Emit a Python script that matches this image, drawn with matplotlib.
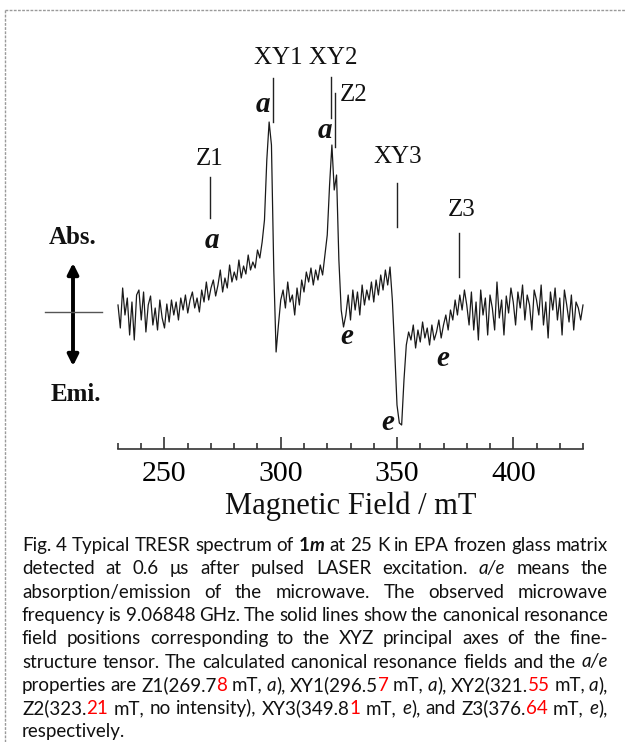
import re
import numpy as np
import matplotlib
matplotlib.use("Agg")
import matplotlib.pyplot as plt
from matplotlib.lines import Line2D
from matplotlib.patches import FancyArrowPatch

# ---------------- data ----------------
field_start = 230.0   # mT
field_step = 1.0      # mT
signal = [
    5, -18, 22, -5, 12, -25, 8, -30, 15, 20,            # 230-239
    -10, 18, -22, 5, 14, -15, 2, -20, 10, -8,           # 240-249
    -18, 6, -12, 10, -5, 8, -10, 12, 0, 15,             # 250-259
    -3, 10, 18, 2, 12, -2, 20, 8, 28, 10,               # 260-269
    22, 30, 14, 25, 40, 18, 32, 22, 45, 28,             # 270-279
    38, 30, 50, 32, 44, 36, 55, 40, 48, 42,             # 280-289
    60, 52, 68, 90, 150, 188, 165, 40, -42, -15,        # 290-299
    10, 20, 2, 28, 8, 15, -5, 22, 5, 30,                # 300-309
    18, 38, 28, 42, 25, 40, 30, 45, 35, 55,             # 310-319
    75, 125, 165, 120, 135, 50, 0, -17, -5, 15,         # 320-329
    -10, 20, 0, 18, -5, 25, 5, 20, 10, 28,              # 330-339
    8, 30, 15, 35, 20, 40, 25, 43, 10, -40,             # 340-349
    -95, -113, -115, -70, -35, -22, -30, -15, -38, -20, # 350-359
    -32, -12, -28, -18, -35, -15, -30, -22, -10, -28,   # 360-369
    -15, -5, -20, 0, -10, 10, -5, 15, 0, 20,            # 370-379
    5, -15, 18, -20, 8, -30, 20, -5, 12, -25,           # 380-389
    15, 2, -20, 28, -8, 10, -25, 14, -3, 22,            # 390-399
    8, -15, 18, 2, 25, -10, 15, 5, -20, 20,             # 400-409
    10, -5, 25, -15, 8, -28, 18, 0, 22, -10,            # 410-419
    12, -25, 20, 5, -12, 15, -20, 8, 2, -10,            # 420-429
    5,                                                  # 430
]
field = field_start + field_step * np.arange(len(signal))

marker_names = ["Z1", "XY1", "XY2", "Z2", "XY3", "Z3"]
marker_fields = [269.78, 296.57, 321.55, 323.21, 349.81, 376.64]

major_ticks = [250, 300, 350, 400]
minor_ticks = list(range(230, 431, 10))

caption_lines = [
    "Fig. 4 Typical TRESR spectrum of {b:1}{bi:m} at 25 K in EPA frozen glass matrix",
    "detected at 0.6 \u03bcs after pulsed LASER excitation. {i:a/e} means the",
    "absorption/emission of the microwave. The observed microwave",
    "frequency is 9.06848 GHz. The solid lines show the canonical resonance",
    "field positions corresponding to the XYZ principal axes of the fine-",
    "structure tensor. The calculated canonical resonance fields and the {i:a/e}",
    "properties are Z1(269.7{r:8} mT, {i:a}), XY1(296.5{r:7} mT, {i:a}), XY2(321.{r:55} mT, {i:a}),",
    "Z2(323.{r:21} mT, no intensity), XY3(349.8{r:1} mT, {i:e}), and Z3(376.{r:64} mT, {i:e}),",
    "respectively.",
]

# ---------------- figure ----------------
W, H, DPI = 626, 742, 100
fig = plt.figure(figsize=(W / DPI, H / DPI), dpi=DPI)
fig.patch.set_facecolor("white")


def fx(px):
    return px / W


def fy(py):
    return 1 - py / H


SERIF = ["Liberation Serif", "DejaVu Serif"]

ax = fig.add_axes([fx(118), fy(449), fx(583) - fx(118), fy(0) - fy(449)])
ax.set_xlim(230, 430)
ax.set_ylim(-139, 310)
ax.patch.set_visible(False)
for s in ["top", "left", "right"]:
    ax.spines[s].set_visible(False)
ax.spines["bottom"].set_linewidth(1.2)
ax.spines["bottom"].set_color("#333333")
ax.set_yticks([])
ax.set_xticks(major_ticks)
ax.set_xticks(minor_ticks, minor=True)
ax.tick_params(axis="x", which="major", direction="in", length=9, width=1.2,
               color="#333333", labelsize=21.5, pad=9)
ax.tick_params(axis="x", which="minor", direction="in", length=4.5, width=1.2,
               color="#333333")
for lab in ax.get_xticklabels():
    lab.set_fontfamily(SERIF)

ax.plot(field, signal, color="#1a1a1a", lw=0.9, clip_on=False)

marker_spans = {"Z1": (92, 133), "XY1": (188, 232), "XY2": (192, 233),
                "Z2": (163, 217), "XY3": (83, 127), "Z3": (33, 77)}
for name, f in zip(marker_names, marker_fields):
    y0, y1 = marker_spans[name]
    ax.plot([f, f], [y0, y1], color="#222222", lw=1.0, clip_on=False)

lab_kw = dict(family=SERIF, fontsize=18, ha="center", va="center", color="#111111")
ax.text(310.9, 252, "XY1 XY2", **lab_kw)
ax.text(325.3, 215, "Z2", family=SERIF, fontsize=18, ha="left", va="center", color="#111111")
ax.text(269.6, 151, "Z1", **lab_kw)
ax.text(350.4, 153, "XY3", **lab_kw)
ax.text(378.0, 100, "Z3", **lab_kw)

ae_kw = dict(family=SERIF, fontsize=21, weight="bold", style="italic",
             ha="center", va="center", color="#111111")
ax.text(292.4, 205, "a", **ae_kw)
ax.text(319.0, 179, "a", **ae_kw)
ax.text(270.4, 69, "a", **ae_kw)
ax.text(328.5, -26, "e", **ae_kw)
ax.text(369.8, -49, "e", **ae_kw)
ax.text(346.1, -113, "e", **ae_kw)

fig.text(fx(351), fy(514), "Magnetic Field / mT", family=SERIF, fontsize=22,
         ha="center", va="baseline", color="#111111")

fig.text(fx(73), fy(237), "Abs.", family=SERIF, fontsize=18, weight="bold",
         ha="center", va="center", color="#111111")
fig.text(fx(76), fy(394), "Emi.", family=SERIF, fontsize=18, weight="bold",
         ha="center", va="center", color="#111111")
fig.add_artist(Line2D([fx(45), fx(102)], [fy(312), fy(312)], color="#555555", lw=1.0))
fig.add_artist(FancyArrowPatch((fx(73), fy(263)), (fx(73), fy(366)),
                               transform=fig.transFigure, arrowstyle="<|-|>",
                               mutation_scale=16, lw=2.8, color="black",
                               shrinkA=0, shrinkB=0))

fig.add_artist(Line2D([fx(5), fx(626)], [fy(10), fy(10)], color="#9a9a9a",
                      lw=1.0, ls=(0, (2, 1))))
fig.add_artist(Line2D([fx(5), fx(5)], [fy(10), fy(742)], color="#9a9a9a",
                      lw=1.0, ls=(0, (2, 1))))

# ---------------- caption (justified) ----------------
CAP = ["Lato", "DejaVu Sans"]
renderer = fig.canvas.get_renderer()
styles = {
    "": dict(color="#111111", weight="normal", style="normal"),
    "b": dict(color="#111111", weight="bold", style="normal"),
    "bi": dict(color="#111111", weight="bold", style="italic"),
    "i": dict(color="#111111", weight="normal", style="italic"),
    "r": dict(color="#ff0000", weight="normal", style="normal"),
}


def parse_word(word):
    segs = []
    for m in re.finditer(r"\{(\w+):([^}]*)\}|([^{]+)", word):
        if m.group(3) is not None:
            segs.append(("", m.group(3)))
        else:
            segs.append((m.group(1), m.group(2)))
    return segs


def seg_width(txt, key, size):
    t = fig.text(0, 0, txt, family=CAP, fontsize=size, **styles[key])
    w = t.get_window_extent(renderer).width
    t.remove()
    return w


LEFT, RIGHT = 22, 608
test = re.sub(r"\{\w+:([^}]*)\}", r"\1", caption_lines[0])
w12 = seg_width(test, "", 12)
cap_size = 12 * (RIGHT - LEFT) / w12

baseline0 = 551
line_gap = 23.3
space_w = seg_width("a a", "", cap_size) - seg_width("aa", "", cap_size)
for li, line in enumerate(caption_lines):
    words = [parse_word(w) for w in line.split(" ")]
    layouts = []
    for wd in words:
        pos = []
        prefix = ""
        end = 0
        for k, t in wd:
            prefix += t
            end = seg_width(prefix, "", cap_size) if len(wd) > 1 else seg_width(t, k, cap_size)
            w = seg_width(t, k, cap_size)
            pos.append((k, t, end - w))
        layouts.append((pos, end))
    totals = [tot for _, tot in layouts]
    if li < len(caption_lines) - 1 and len(words) > 1:
        gap = (RIGHT - LEFT - sum(totals)) / (len(words) - 1)
    else:
        gap = space_w
    x = LEFT
    yb = baseline0 + li * line_gap
    for pos, tot in layouts:
        for k, t, off in pos:
            fig.text(fx(x + off), fy(yb), t, family=CAP, fontsize=cap_size,
                     va="baseline", ha="left", **styles[k])
        x += tot + gap

fig.savefig("out.png", dpi=DPI, facecolor="white")
